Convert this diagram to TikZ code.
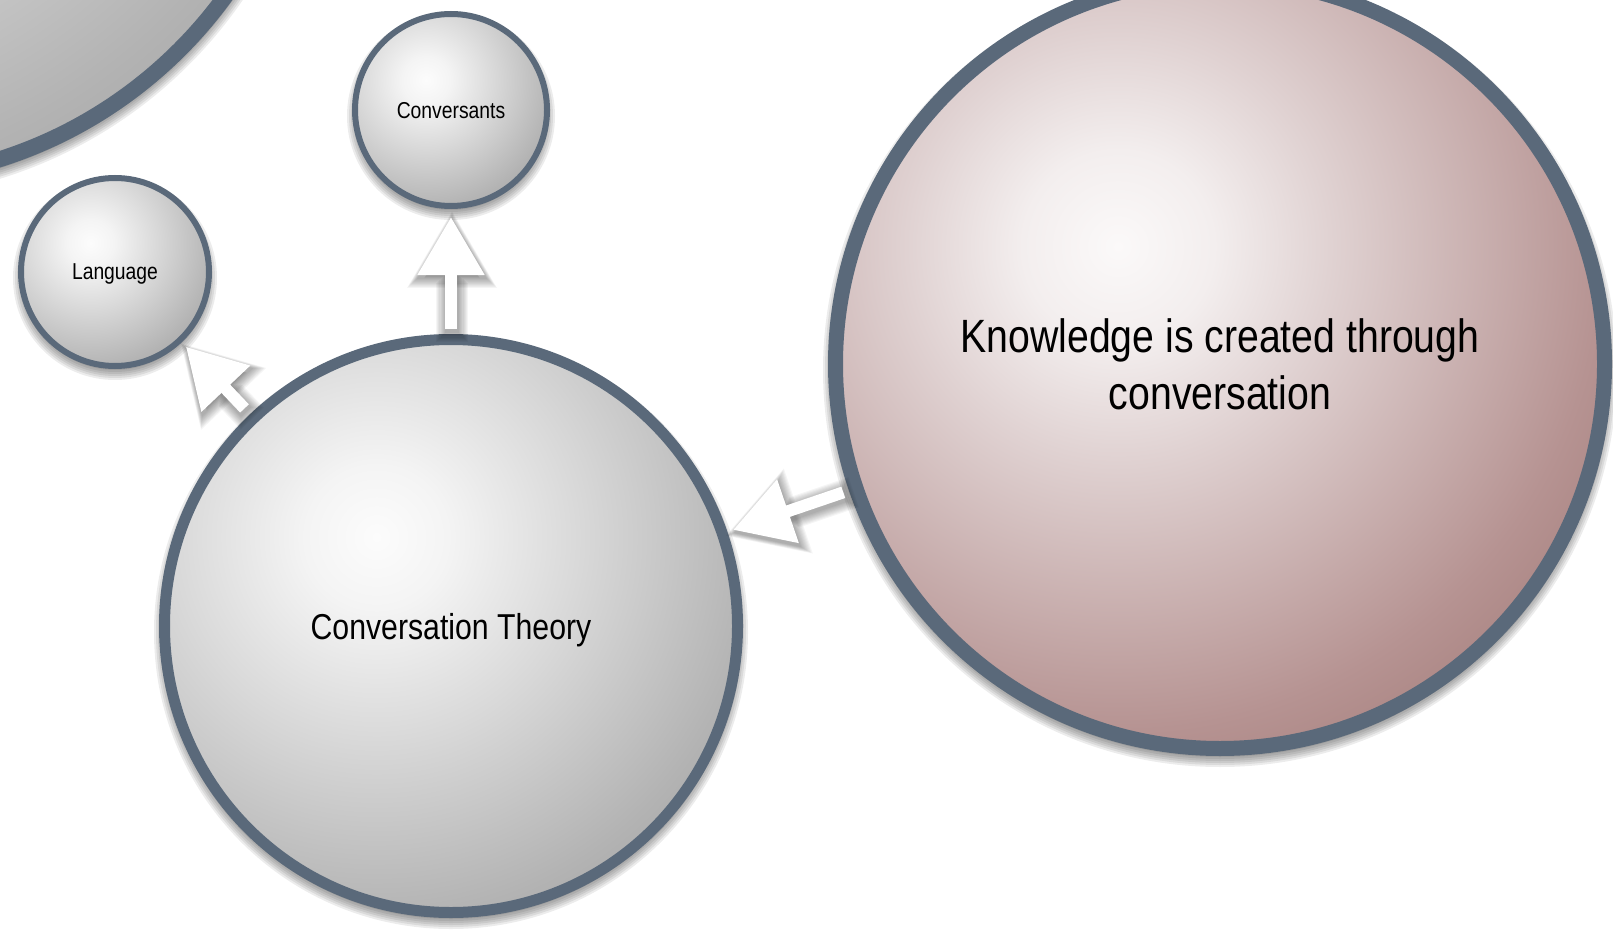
\documentclass[tikz,border=0pt]{standalone}
\usepackage{fontspec}
\setmainfont{Liberation Sans}
\newfontfamily\narrowsans[FakeStretch=0.84]{Liberation Sans}
\usetikzlibrary{arrows.meta}

\definecolor{rimcol}{RGB}{90,105,122}
\definecolor{gA}{RGB}{252,252,252}
\definecolor{gB}{RGB}{244,244,244}
\definecolor{gC}{RGB}{216,216,216}
\definecolor{gD}{RGB}{179,179,179}
\definecolor{gE}{RGB}{173,173,173}
\definecolor{pA}{RGB}{251,249,249}
\definecolor{pB}{RGB}{243,238,238}
\definecolor{pC}{RGB}{224,210,210}
\definecolor{pD}{RGB}{182,147,146}
\definecolor{pE}{RGB}{172,135,133}

\pgfdeclareradialshading{graygrad}{\pgfpointorigin}{color(0bp)=(gA); color(4.3bp)=(gB); color(12.4bp)=(gC); color(22.95bp)=(gD); color(25bp)=(gE); color(50bp)=(gE)}
\pgfdeclareradialshading{pinkgrad}{\pgfpointorigin}{color(0bp)=(pA); color(4.3bp)=(pB); color(9.5bp)=(pC); color(21.7bp)=(pD); color(25bp)=(pE); color(50bp)=(pE)}

\pgfdeclarelayer{bg}
\pgfsetlayers{bg,main}

\newcommand\ballshadow[2]{%
  \foreach \k in {1,...,6}{%
    \fill[black, opacity=0.075] ([yshift=-6pt]#1.center) circle [radius=#2+7-2*\k];}}

\begin{document}
\begin{tikzpicture}[x=1pt,y=-1pt,
  ball/.style={circle, draw=rimcol, inner sep=0pt, align=center, text=black, text depth=0pt},
  gball/.style={ball, path picture={\shade[shading=graygrad]
     ([shift={(-0.26*#1,-0.31*#1)}]path picture bounding box.center) circle [radius=1.45*#1];}},
  pball/.style={ball, path picture={\shade[shading=pinkgrad]
     ([shift={(-0.265*#1,-0.306*#1)}]path picture bounding box.center) circle [radius=1.45*#1];}},
  smallfont/.style={font=\narrowsans\fontsize{23}{27}\selectfont},
  bigarrow/.style={draw=white, line width=12pt, -{Triangle[width=64pt,length=58pt,fill=white]}},
  glow/.style={draw=black, opacity=0.04, line width=#1,
    -{Triangle[width=52pt 1,length=46pt 1]}, transform canvas={shift={(1pt,-3pt)}}}]
\useasboundingbox (0,0) rectangle (1613,933);

\node[gball=445, line width=16pt, minimum size=890pt] (big) at (-135,-265) {};
\node[gball=96, line width=6pt, minimum size=192pt, smallfont] (conv) at (451,110) {Conversants};
\node[gball=94, line width=6pt, minimum size=188pt, smallfont] (lang) at (115,272) {Language};
\node[gball=286.5, line width=11pt, minimum size=573pt, font=\narrowsans\fontsize{36}{43}\selectfont] (ct) at (451,626) {Conversation Theory};
\node[pball=384.5, line width=15pt, minimum size=769pt, font=\narrowsans\fontsize{46.7}{57}\selectfont] (know) at (1220,364) {Knowledge is created through\\conversation};

\begin{pgfonlayer}{bg}
  \fill[white] (0,0) rectangle (1613,933);
  \ballshadow{big}{453}
  \ballshadow{conv}{99}
  \ballshadow{lang}{97}
  \ballshadow{ct}{292}
  \ballshadow{know}{392}
\end{pgfonlayer}

\foreach \k in {1,...,9}{
  \pgfmathsetmacro\lw{12+2.2*\k}
  \pgfmathsetmacro\sa{5-1.1*\k}
  \pgfmathsetmacro\sb{8-1.1*\k}
  \pgfmathsetmacro\sc{6-1.1*\k}
  \draw[glow=\lw pt, shorten <=\sa pt, shorten >=\sb pt] (ct) -- (conv);
  \draw[glow=\lw pt, shorten <=\sb pt, shorten >=\sc pt] (ct) -- (lang);
  \draw[glow=\lw pt, shorten <=\sc pt, shorten >=\sc pt] (know) -- (ct);
}

\draw[bigarrow, shorten <=5pt, shorten >=8pt] (ct) -- (conv);
\draw[bigarrow, shorten <=8pt, shorten >=6pt] (ct) -- (lang);
\draw[bigarrow, shorten <=6pt, shorten >=6pt] (know) -- (ct);
\end{tikzpicture}
\end{document}
